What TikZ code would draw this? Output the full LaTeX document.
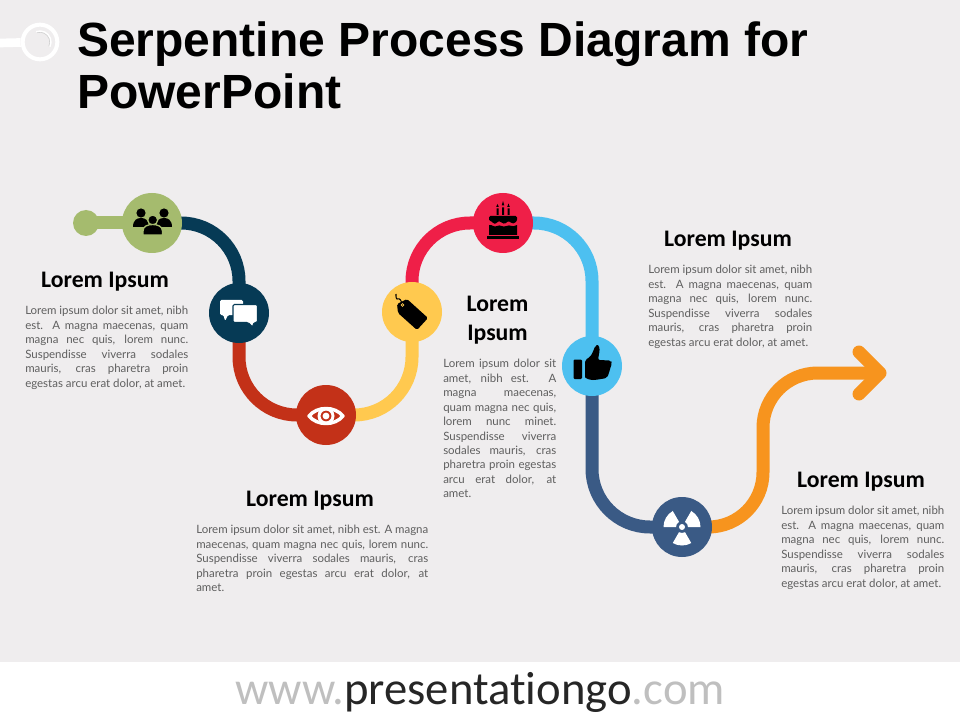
\documentclass[tikz,border=0pt]{standalone}
\usepackage{fontspec}
\setmainfont{Liberation Sans}
\newfontfamily\headfont{Carlito}
\newfontfamily\sitefont[Ligatures=NoCommon]{Carlito}
\newfontfamily\bodyfont{Lato}
\usetikzlibrary{backgrounds, positioning}
\definecolor{pagegrey}{HTML}{EFEDEE}
\definecolor{bodygrey}{HTML}{5F5F5F}
\definecolor{wwwgrey}{HTML}{BFBFBF}
\definecolor{teamgreen}{HTML}{A5BB6E}
\definecolor{chatnavy}{HTML}{063A55}
\definecolor{eyered}{HTML}{C33118}
\definecolor{tagyellow}{HTML}{FFC94F}
\definecolor{cakepink}{HTML}{EF1F48}
\definecolor{thumbblue}{HTML}{4DC0F0}
\definecolor{atomblue}{HTML}{3A5A85}
\definecolor{arroworange}{HTML}{F7941E}
\tikzset{
    %One unit is one pixel of the slide
    x=.75pt, y=-.75pt,
}
\begin{document}
\begin{tikzpicture}[
    stop/.style = {circle, fill=#1, minimum size=45pt, inner sep=0pt},
    snake/.style = {draw=#1, line width=9.75pt, rounded corners=43.5pt},
    heading/.style = {font=\headfont\bfseries\fontsize{17.8}{21.6}\selectfont, align=center, inner sep=0pt},
    blurb/.style = {font=\bodyfont\fontsize{8.6}{10.85}\selectfont, text=bodygrey, align=justify, inner sep=0pt, anchor=north west},
  ]
  \useasboundingbox (0,0) rectangle (960,720);

  \node[circle, draw=white, line width=3pt, minimum size=26pt, inner sep=0pt] (hook) at (40,42) {};
  \coordinate (hookend) at (0,43);
  \draw[white, line width=6.5pt] (hookend) -- (hook);
  \draw[black!18, line width=.8pt] (37,32.5) arc[start angle=-107, end angle=25, radius=10];
  \draw[white, line width=1.1pt] (36.2,31.7) arc[start angle=-110, end angle=25, radius=11];

  \node[anchor=north west, inner sep=0pt, align=left, font=\bfseries\fontsize{36}{39}\selectfont] (title) at (77,21) {Serpentine Process Diagram for\\PowerPoint};

  \node[stop=teamgreen] (team) at (152,223) {};
  \node[stop=chatnavy] (chat) at (239,313) {};
  \node[stop=eyered] (eye) at (326,415) {};
  \node[stop=tagyellow] (tag) at (412,312) {};
  \node[stop=cakepink] (cake) at (503,223) {};
  \node[stop=thumbblue] (thumb) at (592,366) {};
  \node[stop=atomblue] (atom) at (682,527) {};
  \node[circle, fill=teamgreen, minimum size=19.5pt, inner sep=0pt] (start) at (86,223) {};
  \coordinate (bend) at (763,373);
  \coordinate (tip) at (880,373);
  \coordinate (barbup) at (859,352);
  \coordinate (barbdown) at (859,394);

  \begin{scope}[on background layer]
    \fill[pagegrey] (0,0) rectangle (960,662);
    \draw[teamgreen, line width=9.75pt] (start.center) -- (team.center);
    \draw[snake=chatnavy] (team.center) -| (chat.center);
    \draw[snake=eyered] (chat.center) |- (eye.center);
    \draw[snake=tagyellow] (eye.center) -| (tag.center);
    \draw[snake=cakepink] (tag.center) |- (cake.center);
    \draw[snake=thumbblue] (cake.center) -| (thumb.center);
    \draw[snake=atomblue] (thumb.center) |- (atom.center);
    \draw[snake=arroworange, rounded corners=41pt] (atom.center) -| (bend) -- (tip);
    \draw[arroworange, line width=9.75pt, line cap=round, line join=round] (barbup) -- (tip) -- (barbdown);
  \end{scope}

  % icons
  \begin{scope}[shift={(team.center)}]
    \fill (-11,-10) circle[radius=4.6] (12,-10) circle[radius=4.6];
    \fill (-19,4) .. controls (-19,-3) and (-15,-5) .. (-11,-5) .. controls (-7,-5) and (-3,-3) .. (-3,4) -- cycle;
    \fill (4,4) .. controls (4,-3) and (8,-5) .. (12,-5) .. controls (16,-5) and (20,-3) .. (20,4) -- cycle;
    \filldraw[draw=teamgreen, line width=1pt] (.7,-3) circle[radius=5];
    \filldraw[draw=teamgreen, line width=1pt] (-9,12) -- (-9,8) .. controls (-9,3) and (-4,1.5) .. (.7,1.5) .. controls (5,1.5) and (10.5,3) .. (10.5,8) -- (10.5,12) -- cycle;
  \end{scope}
  \begin{scope}[shift={(chat.center)}]
    \fill[white, rounded corners=1pt] (-19,-13) -- (4,-13) -- (4,2) -- (-11,2) -- (-14,8) -- (-15.5,2) -- (-19,2) -- cycle;
    \filldraw[fill=white, draw=chatnavy, line width=.8pt, rounded corners=1pt] (-6,-8.5) -- (18.5,-8.5) -- (18.5,9.5) -- (15,9.5) -- (13.5,14) -- (9,9.5) -- (-6,9.5) -- cycle;
  \end{scope}
  \begin{scope}[shift={(eye.center)}]
    \filldraw[fill=eyered, draw=white, line width=2.6pt, line join=round] (-17,1) .. controls (-9,-9) and (9,-9) .. (17,1) .. controls (9,11) and (-9,11) .. (-17,1) -- cycle;
    \draw[white, line width=2.2pt] (0,1) circle[radius=7];
    \fill[white] (0,1) circle[radius=3.4];
  \end{scope}
  \begin{scope}[shift={(tag.center)}]
    \fill[rounded corners=1.2pt] (-15,-8) -- (-5,-13) -- (16,6) -- (5,18) -- (-14,1) -- cycle;
    \draw[line width=.8pt] (-10,-8) .. controls (-11,-12) and (-12,-14) .. (-15,-13) .. controls (-16,-14) .. (-16,-18);
    \draw[tagyellow, line width=.6pt] (-9.5,-7) circle[radius=1.4];
  \end{scope}
  \begin{scope}[shift={(cake.center)}]
    \fill[rounded corners=1pt] (-14,-2) -- (-14,-7) -- (14,-7) -- (14,-2) .. controls (9,3) and (7,-3) .. (3.5,-.5) .. controls (0,2) and (-3,-3) .. (-6,-.5) .. controls (-9,2) and (-11,-2) .. (-14,-2) -- cycle;
    \fill (-14,2) .. controls (-11,1) and (-9,5) .. (-6,3) .. controls (-3,1) and (0,5) .. (3.5,3) .. controls (7,1) and (9,5) .. (14,2) -- (14,12) -- (-14,12) -- cycle;
    \fill (-16,13.5) rectangle (16,16.5);
    \fill (-6.5,-8) rectangle (-4.5,-14.5) (-1,-8) rectangle (1,-15.5) (4.5,-8) rectangle (6.5,-14.5);
    \fill (-5.5,-19) -- (-4.2,-16) -- (-6.8,-16) -- cycle (0,-22) -- (1.3,-17.5) -- (-1.3,-17.5) -- cycle (5.5,-19.5) -- (6.8,-16) -- (4.2,-16) -- cycle;
  \end{scope}
  \begin{scope}[shift={(thumb.center)}]
    \fill[rounded corners=.8pt] (-18.5,-6.5) rectangle (-10,13);
    \fill[rounded corners=1.5pt] (-7,-6) -- (-2,-9) -- (1,-14) -- (3,-20) .. controls (7,-22) and (8,-17) .. (7,-12) -- (6,-6) -- (19,-5.5) -- (20,-3) -- (18,3) -- (17,7) -- (15,12) -- (3,14) .. controls (-3,14) and (-7,12) .. (-7,9) -- cycle;
  \end{scope}
  \begin{scope}[shift={(atom.center)}]
    \fill[white] (0,0) circle[radius=3];
    \foreach \angle in {60, 180, 300}
      \fill[white] (\angle:6) -- (\angle:18.5) arc[start angle=\angle, delta angle=60, radius=18.5] -- (\angle+60:6) arc[start angle=\angle+60, delta angle=-60, radius=6] -- cycle;
  \end{scope}

  % texts
  \node[heading] (head1) at (105,282) {Lorem Ipsum};
  \node[blurb, text width=122.25pt] (text1) at (25,306) {Lorem ipsum dolor sit amet, nibh\linebreak est. A magna maecenas, quam\linebreak magna nec quis, lorem nunc.\linebreak Suspendisse viverra sodales\linebreak mauris, cras pharetra proin\linebreak egestas arcu erat dolor, at amet.};
  \node[heading] (head2) at (310,501) {Lorem Ipsum};
  \node[blurb, text width=174pt] (text2) at (196,525) {Lorem ipsum dolor sit amet, nibh est. A magna\linebreak maecenas, quam magna nec quis, lorem nunc.\linebreak Suspendisse viverra sodales mauris, cras\linebreak pharetra proin egestas arcu erat dolor, at\linebreak amet.};
  \node[heading] (head3) at (497.5,320.5) {Lorem\\Ipsum};
  \node[blurb, text width=84.75pt] (text3) at (443,359) {Lorem ipsum dolor sit\linebreak amet, nibh est. A\linebreak magna maecenas,\linebreak quam magna nec quis,\linebreak lorem nunc minet.\linebreak Suspendisse viverra\linebreak sodales mauris, cras\linebreak pharetra proin egestas\linebreak arcu erat dolor, at\linebreak amet.};
  \node[heading] (head4) at (728,241) {Lorem Ipsum};
  \node[blurb, text width=123pt] (text4) at (648,265) {Lorem ipsum dolor sit amet, nibh\linebreak est. A magna maecenas, quam\linebreak magna nec quis, lorem nunc.\linebreak Suspendisse viverra sodales\linebreak mauris, cras pharetra proin\linebreak egestas arcu erat dolor, at amet.};
  \node[heading] (head5) at (861,482) {Lorem Ipsum};
  \node[blurb, text width=122.25pt] (text5) at (781,506) {Lorem ipsum dolor sit amet, nibh\linebreak est. A magna maecenas, quam\linebreak magna nec quis, lorem nunc.\linebreak Suspendisse viverra sodales\linebreak mauris, cras pharetra proin\linebreak egestas arcu erat dolor, at amet.};

  \node[font=\sitefont\fontsize{35}{42}\selectfont, text=wwwgrey, inner sep=0pt] (site) at (480,692) {www.\textcolor{black!85}{presentationgo}.com};
\end{tikzpicture}
\end{document}
